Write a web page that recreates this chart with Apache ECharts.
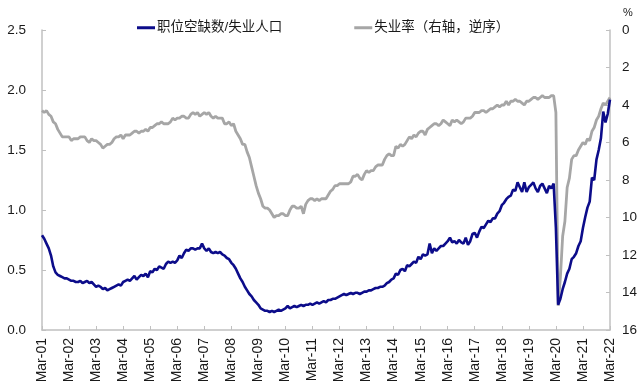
<!DOCTYPE html>
<html>
<head>
<meta charset="utf-8">
<script src="https://cdn.jsdelivr.net/npm/echarts@6/dist/echarts.min.js"></script>
<style>html,body{margin:0;padding:0;background:#fff;}#c{width:640px;height:392px;}</style>
</head>
<body>
<div id="c"></div>
<script>
// Monthly categories Mar-01 .. Mar-22
const monthNames = ['Jan','Feb','Mar','Apr','May','Jun','Jul','Aug','Sep','Oct','Nov','Dec'];
const startYear = 2001, startMonth = 2, endYear = 2022, endMonth = 2;
const categories = [];
for (let y = startYear; y <= endYear; y++) {
  for (let m = 0; m < 12; m++) {
    if (y === startYear && m < startMonth) continue;
    if (y === endYear && m > endMonth) break;
    categories.push(monthNames[m] + '-' + String(y % 100).padStart(2, '0'));
  }
}

// 职位空缺数/失业人口 (left axis)
const vacancyRatio = [
  0.79,0.76,0.72,0.68,0.62,0.53,0.48,0.46,0.45,0.44,
  0.43,0.43,0.42,0.41,0.41,0.40,0.40,0.41,0.39,0.40,0.41,0.39,
  0.40,0.38,0.36,0.37,0.36,0.34,0.35,0.33,0.34,0.35,0.36,0.37,
  0.38,0.37,0.40,0.41,0.42,0.41,0.43,0.45,0.42,0.44,0.46,0.45,
  0.47,0.44,0.49,0.48,0.51,0.50,0.53,0.52,0.51,0.55,0.57,0.56,
  0.57,0.56,0.58,0.62,0.60,0.64,0.67,0.66,0.68,0.68,0.67,0.68,
  0.68,0.72,0.68,0.66,0.68,0.65,0.64,0.65,0.64,0.65,0.63,0.62,
  0.60,0.59,0.56,0.54,0.51,0.47,0.43,0.40,0.36,0.33,0.30,0.28,
  0.25,0.23,0.21,0.18,0.17,0.16,0.16,0.15,0.16,0.15,0.16,0.17,
  0.16,0.17,0.18,0.20,0.18,0.19,0.20,0.19,0.20,0.21,0.20,0.21,
  0.21,0.22,0.21,0.22,0.23,0.22,0.23,0.24,0.23,0.25,0.25,0.26,
  0.26,0.27,0.28,0.29,0.30,0.29,0.30,0.31,0.30,0.31,0.31,0.30,
  0.31,0.32,0.32,0.33,0.33,0.34,0.35,0.35,0.36,0.36,0.37,0.39,
  0.40,0.42,0.43,0.47,0.46,0.50,0.51,0.49,0.54,0.53,0.55,0.57,
  0.56,0.61,0.59,0.63,0.62,0.63,0.72,0.64,0.68,0.66,0.68,0.70,
  0.70,0.72,0.74,0.77,0.73,0.74,0.72,0.75,0.73,0.72,0.77,0.71,
  0.74,0.80,0.81,0.77,0.82,0.86,0.85,0.88,0.91,0.90,0.93,0.93,
  0.97,0.99,1.04,1.06,1.09,1.11,1.12,1.17,1.16,1.23,1.19,1.15,
  1.23,1.15,1.19,1.21,1.23,1.18,1.15,1.20,1.22,1.18,1.14,1.20,
  1.18,1.22,0.85,0.21,0.26,0.34,0.40,0.47,0.51,0.59,0.61,0.64,
  0.70,0.74,0.85,0.94,1.02,1.07,1.27,1.25,1.42,1.50,1.60,1.82,
  1.73,1.80,1.92
];

// 失业率 (right axis, inverted)
const unemploymentRate = [
  4.3,4.4,4.3,4.5,4.6,4.9,5.0,5.3,5.5,5.7,
  5.7,5.7,5.7,5.9,5.8,5.8,5.8,5.7,5.7,5.7,5.9,6.0,
  5.8,5.9,5.9,6.0,6.1,6.3,6.2,6.1,6.1,6.0,5.8,5.7,
  5.7,5.6,5.8,5.6,5.6,5.6,5.5,5.4,5.4,5.5,5.4,5.4,
  5.3,5.4,5.2,5.2,5.1,5.0,5.0,4.9,5.0,5.0,5.0,4.9,
  4.7,4.8,4.7,4.7,4.6,4.6,4.7,4.7,4.5,4.4,4.5,4.4,
  4.6,4.5,4.4,4.5,4.4,4.6,4.7,4.6,4.7,4.7,4.7,5.0,
  5.0,4.9,5.1,5.0,5.4,5.6,5.8,6.1,6.1,6.5,6.8,7.3,
  7.8,8.3,8.7,9.0,9.4,9.5,9.5,9.6,9.8,10.0,9.9,9.9,
  9.8,9.8,9.9,9.9,9.6,9.4,9.4,9.5,9.5,9.4,9.8,9.3,
  9.1,9.0,9.0,9.1,9.0,9.1,9.0,9.0,9.0,8.8,8.6,8.5,
  8.3,8.3,8.2,8.2,8.2,8.2,8.2,8.1,7.8,7.8,7.7,7.9,
  8.0,7.7,7.5,7.6,7.5,7.5,7.3,7.2,7.2,7.2,6.9,6.7,
  6.6,6.7,6.7,6.2,6.3,6.1,6.2,6.1,5.9,5.7,5.8,5.6,
  5.7,5.5,5.4,5.4,5.6,5.3,5.2,5.1,5.0,5.0,5.1,5.0,
  4.8,4.9,5.0,5.1,4.8,4.9,4.8,4.9,5.0,4.9,4.7,4.7,
  4.7,4.6,4.4,4.4,4.4,4.3,4.3,4.4,4.3,4.2,4.2,4.1,
  4.0,4.1,4.0,4.0,3.8,4.0,3.8,3.8,3.7,3.8,3.8,3.9,
  4.0,3.8,3.8,3.7,3.6,3.6,3.7,3.6,3.5,3.6,3.6,3.6,
  3.5,3.5,4.4,14.7,13.2,11.0,10.2,8.4,7.9,6.9,6.7,6.7,
  6.4,6.2,6.0,6.1,5.8,5.9,5.4,5.2,4.8,4.6,4.2,3.9,
  4.0,3.8,3.6
];

const leftTicks = { min: 0, max: 2.5, interval: 0.5 };
const rightTicks = { min: 0, max: 16, interval: 2 };
const seriesNames = ['职位空缺数/失业人口', '失业率（右轴，逆序）'];

const font = '"Liberation Sans", Arial, "Noto Sans CJK SC", sans-serif';
const axisGray = '#c0c0c0';
const chart = echarts.init(document.getElementById('c'), null, { renderer: 'canvas' });
chart.setOption({
  animation: false,
  backgroundColor: '#fff',
  textStyle: { fontFamily: font },
  grid: { left: 42, right: 29, top: 30, bottom: 62 },
  legend: {
    data: seriesNames,
    left: 132, top: 16,
    itemGap: 72, itemWidth: 18, itemHeight: 3,
    icon: 'rect',
    textStyle: { fontSize: 13.5, color: '#1a1a1a', fontFamily: font, padding: [0,0,0,-3] }
  },
  xAxis: {
    type: 'category',
    data: categories,
    boundaryGap: false,
    axisLine: { lineStyle: { color: axisGray, width: 1.5 } },
    axisTick: { inside: true, length: 4, interval: 11, lineStyle: { color: axisGray } },
    axisLabel: { interval: 11, rotate: 90, fontSize: 14, color: '#1a1a1a', margin: 8, fontFamily: font },
    splitLine: { show: false }
  },
  yAxis: [
    {
      type: 'value', min: leftTicks.min, max: leftTicks.max, interval: leftTicks.interval,
      axisLine: { show: true, lineStyle: { color: axisGray, width: 1.5 } },
      axisTick: { show: true, inside: true, length: 4, lineStyle: { color: axisGray } },
      axisLabel: { fontSize: 13.5, color: '#1a1a1a', margin: 16, formatter: v => v.toFixed(1), fontFamily: font },
      splitLine: { show: false }
    },
    {
      type: 'value', min: rightTicks.min, max: rightTicks.max, interval: rightTicks.interval, inverse: true,
      position: 'right',
      name: '%', nameLocation: 'start', nameGap: 12,
      nameTextStyle: { fontSize: 11, color: '#1a1a1a', align: 'left', padding: [0,0,0,13], fontFamily: font },
      axisLine: { show: true, lineStyle: { color: axisGray, width: 1.5 } },
      axisTick: { show: true, inside: true, length: 4, lineStyle: { color: axisGray } },
      axisLabel: { fontSize: 13.5, color: '#1a1a1a', margin: 12, fontFamily: font },
      splitLine: { show: false }
    }
  ],
  series: [
    {
      name: seriesNames[1], type: 'line', yAxisIndex: 1, data: unemploymentRate,
      showSymbol: false, symbol: 'none',
      lineStyle: { color: '#a6a6a6', width: 2.8 }, itemStyle: { color: '#a6a6a6' }, z: 2
    },
    {
      name: seriesNames[0], type: 'line', yAxisIndex: 0, data: vacancyRatio,
      showSymbol: false, symbol: 'none',
      lineStyle: { color: '#0c0c8a', width: 2.6 }, itemStyle: { color: '#0c0c8a' }, z: 3
    }
  ]
});
</script>
</body>
</html>
